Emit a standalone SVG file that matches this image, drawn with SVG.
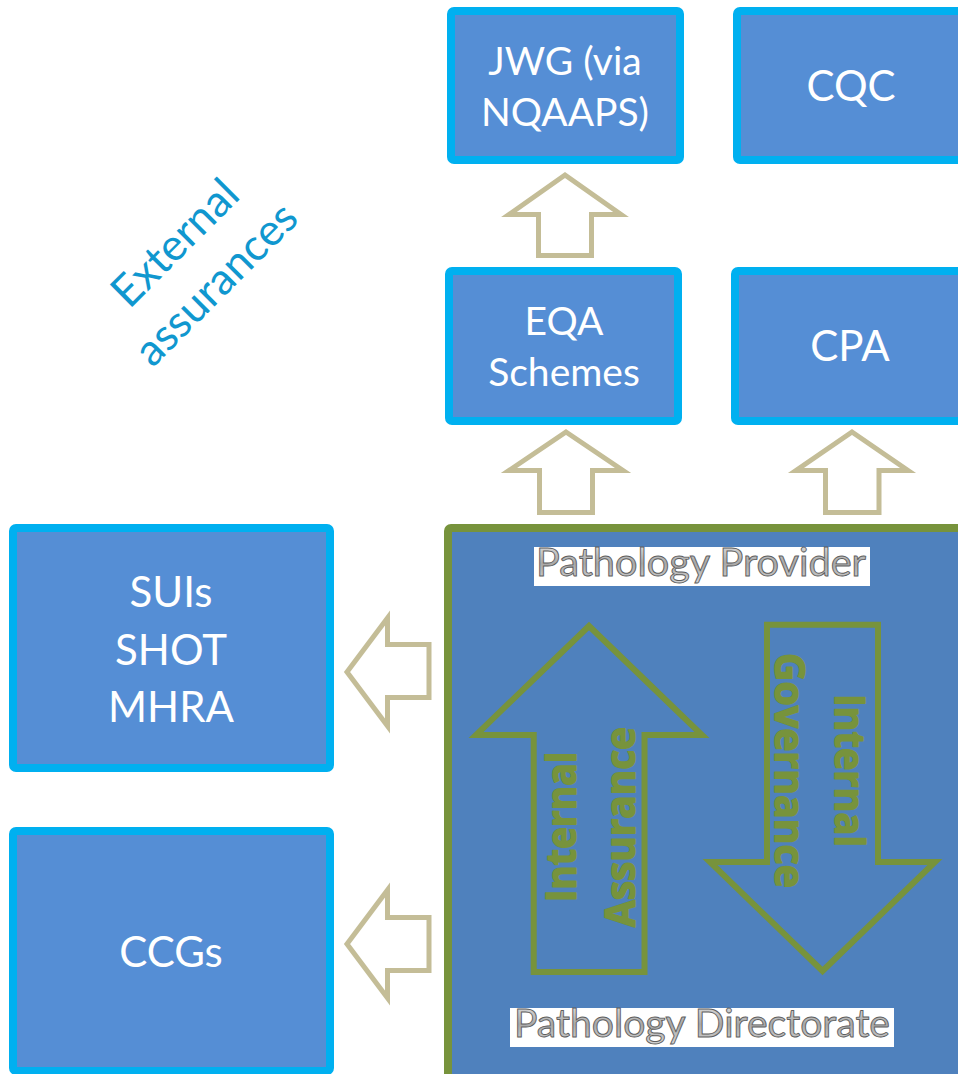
<svg xmlns="http://www.w3.org/2000/svg" width="958" height="1074" viewBox="0 0 958 1074">
  <defs>
    <style>
      .box { fill: #558ED5; stroke: #00B0F0; stroke-width: 8; }
      .boxtxt { font-family: Lato, "Open Sans", sans-serif; fill: #FFFFFF; text-anchor: middle; }
      .conn { fill: #FFFFFF; stroke: #C4BD97; stroke-width: 5; stroke-linejoin: miter; }
      .inarrow { fill: none; stroke: #77933C; stroke-width: 6; stroke-linejoin: miter; }
      .intxt { font-family: "Open Sans", "DejaVu Sans", sans-serif; font-weight: 700; font-size: 41px; fill: #77933C; stroke: #77933C; stroke-width: 1.6; stroke-linejoin: round; text-anchor: middle; }
      .lblbg { fill: #FFFFFF; }
      .lbl { font-family: Lato, "Open Sans", sans-serif; font-size: 38px; fill: url(#metal); stroke: #5E5E5E; stroke-width: 0.9; text-anchor: middle; }
      .ext { font-family: Lato, "Open Sans", sans-serif; font-size: 44px; fill: #1097CF; text-anchor: middle; }
    </style>
    <linearGradient id="metal" x1="0" y1="0" x2="0" y2="1">
      <stop offset="0" stop-color="#EDEDED"/>
      <stop offset="0.55" stop-color="#A8A8A8"/>
      <stop offset="1" stop-color="#D4D4D4"/>
    </linearGradient>
  </defs>
  <rect x="0" y="0" width="958" height="1074" fill="#FFFFFF"/>

  <g id="external-label">
    <g transform="translate(206,274) rotate(-45)">
      <text class="ext" x="0" y="-29">External</text>
      <text class="ext" x="0" y="29">assurances</text>
    </g>
  </g>

  <g id="node-jwg">
    <rect class="box" x="451" y="11" width="229" height="149" rx="3"/>
    <text class="boxtxt" font-size="39" x="565" y="75">JWG (via</text>
    <text class="boxtxt" font-size="39" x="565" y="126">NQAAPS)</text>
  </g>
  <g id="node-cqc">
    <rect class="box" x="737" y="11" width="240" height="149" rx="3"/>
    <text class="boxtxt" font-size="42" x="851" y="101">CQC</text>
  </g>
  <g id="node-eqa">
    <rect class="box" x="449" y="271" width="229" height="150" rx="3"/>
    <text class="boxtxt" font-size="39" x="564" y="335">EQA</text>
    <text class="boxtxt" font-size="39" x="564" y="386">Schemes</text>
  </g>
  <g id="node-cpa">
    <rect class="box" x="735" y="271" width="240" height="150" rx="3"/>
    <text class="boxtxt" font-size="42" x="850" y="361">CPA</text>
  </g>
  <g id="node-sui">
    <rect class="box" x="13" y="528" width="317" height="240" rx="3"/>
    <text class="boxtxt" font-size="42" x="171" y="607">SUIs</text>
    <text class="boxtxt" font-size="42" x="171" y="665">SHOT</text>
    <text class="boxtxt" font-size="42" x="171" y="722">MHRA</text>
  </g>
  <g id="node-ccgs">
    <rect class="box" x="13" y="831" width="317" height="240" rx="3"/>
    <text class="boxtxt" font-size="42" x="171" y="967">CCGs</text>
  </g>

  <g id="node-provider">
    <rect x="448" y="528" width="520" height="550" fill="#4F81BD" stroke="#77933C" stroke-width="8" rx="3"/>
    <rect class="lblbg" x="534" y="547" width="336" height="39"/>
    <text class="lbl" x="701" y="576" textLength="330" lengthAdjust="spacingAndGlyphs">Pathology Provider</text>
    <rect class="lblbg" x="510" y="1008" width="384" height="39"/>
    <text class="lbl" x="702" y="1037" textLength="376" lengthAdjust="spacingAndGlyphs">Pathology Directorate</text>
    <polygon class="inarrow" points="589,626 702,735 644.5,735 644.5,972 533.7,972 533.7,735 476,735"/>
    <polygon class="inarrow" points="767,624.7 878,624.7 878,862 935,862 822.5,971 710,862 767,862"/>
    <g transform="translate(588.5,827) rotate(-90)">
      <text class="intxt" x="0" y="-12.5" textLength="150" lengthAdjust="spacingAndGlyphs">Internal</text>
      <text class="intxt" x="0" y="46.5" textLength="200" lengthAdjust="spacingAndGlyphs">Assurance</text>
    </g>
    <g transform="translate(805,770.5) rotate(90)">
      <text class="intxt" x="0" y="-30" textLength="153" lengthAdjust="spacingAndGlyphs">Internal</text>
      <text class="intxt" x="0" y="30" textLength="235" lengthAdjust="spacingAndGlyphs">Governance</text>
    </g>
  </g>

  <g id="connectors">
    <polygon class="conn" points="565,175 621,214.5 591.5,214.5 591.5,255.5 538.5,255.5 538.5,214.5 509,214.5"/>
    <polygon class="conn" points="566,432 623,470.5 592.5,470.5 592.5,512.5 539.5,512.5 539.5,470.5 509,470.5"/>
    <polygon class="conn" points="852,432 908,470.5 879,470.5 879,512.5 825.5,512.5 825.5,470.5 796,470.5"/>
    <polygon class="conn" points="347,672 387.5,618 387.5,644.5 429,644.5 429,697.5 387.5,697.5 387.5,726"/>
    <polygon class="conn" points="347,944 387.5,890 387.5,917.5 429,917.5 429,970.5 387.5,970.5 387.5,998"/>
  </g>
</svg>
